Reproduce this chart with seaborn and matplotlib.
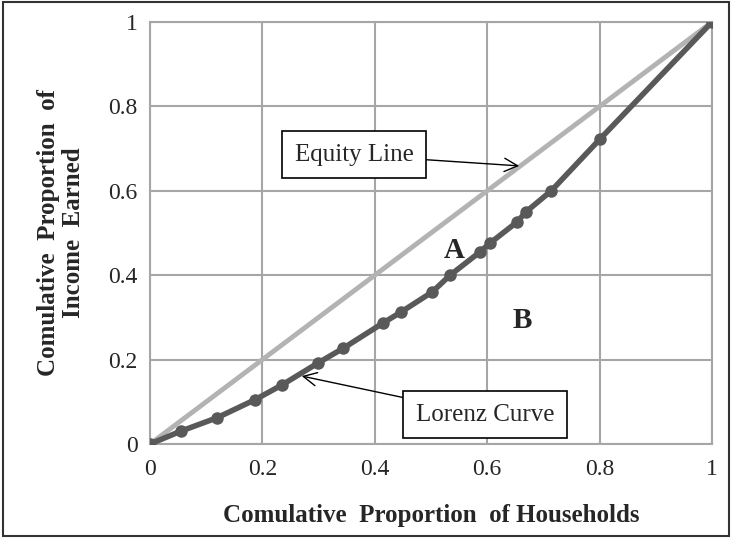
import matplotlib
matplotlib.use("Agg")
import matplotlib.pyplot as plt
import numpy as np
import pandas as pd
import seaborn as sns

# Lorenz curve points
households = [0.0, 0.056, 0.119, 0.187, 0.235, 0.299, 0.344, 0.415, 0.447,
              0.502, 0.534, 0.587, 0.605, 0.653, 0.669, 0.714, 0.801, 1.0]
income = [0.0, 0.031, 0.062, 0.105, 0.140, 0.192, 0.227, 0.287, 0.313,
          0.360, 0.400, 0.455, 0.476, 0.526, 0.550, 0.600, 0.723, 1.0]
equity_x = [0.0, 1.0]
equity_y = [0.0, 1.0]
ticks = [0, 0.2, 0.4, 0.6, 0.8, 1]
tick_labels = ["0", "0.2", "0.4", "0.6", "0.8", "1"]

lorenz = pd.DataFrame({"households": households, "income": income})
equity = pd.DataFrame({"households": equity_x, "income": equity_y})

sns.set_style("white")
plt.rcParams["font.family"] = ["Liberation Serif", "DejaVu Serif"]

fig = plt.figure(figsize=(7.32, 5.38), dpi=100)
ax = fig.add_axes([150 / 732, 1 - 444 / 538, 562 / 732, 422 / 538])

grid_c = "#a6a6a6"
sns.lineplot(data=equity, x="households", y="income", ax=ax,
             color="#b3b3b3", linewidth=3.5, zorder=3)
sns.lineplot(data=lorenz, x="households", y="income", ax=ax,
             color="#595959", linewidth=4, marker="o", markersize=9,
             markeredgewidth=0, zorder=4)

ax.set_xlim(0, 1)
ax.set_ylim(0, 1)
ax.set_xticks(ticks)
ax.set_xticklabels(tick_labels)
ax.set_yticks(ticks)
ax.set_yticklabels(tick_labels)
ax.grid(True, color=grid_c, linewidth=1.5)
ax.set_axisbelow(True)
for s in ax.spines.values():
    s.set_color(grid_c)
    s.set_linewidth(1.5)
ax.tick_params(axis="both", which="both", direction="out", length=6,
               width=1.5, color=grid_c, labelsize=17, pad=3)
ax.tick_params(axis="x", pad=5)

ax.set_xlabel("Comulative  Proportion  of Households", fontsize=18,
              fontweight="bold", labelpad=17)
ax.set_ylabel("Comulative  Proportion  of\nIncome  Earned", fontsize=18,
              fontweight="bold", linespacing=1.15)
ax.yaxis.set_label_coords(-0.115, 0.5)

ax.text(0.541, 0.458, "A", fontsize=21, fontweight="bold", ha="center", va="center")
ax.text(0.663, 0.292, "B", fontsize=21, fontweight="bold", ha="center", va="center")

box = dict(boxstyle="square,pad=0.5", fc="white", ec="black", lw=1.2)
arrow = dict(arrowstyle="->", color="black", lw=1.0, mutation_scale=24, shrinkA=0, shrinkB=0)
ax.annotate("Equity Line", xy=(0.657, 0.659), xytext=(0.363, 0.685),
            fontsize=18, ha="center", va="center", bbox=box, arrowprops=arrow, zorder=6)
ax.annotate("Lorenz Curve", xy=(0.270, 0.161), xytext=(0.596, 0.069),
            fontsize=18, ha="center", va="center", bbox=box, arrowprops=arrow, zorder=6)

# outer frame of the figure
fig.patches.append(plt.Rectangle((0.004, 0.004), 0.992, 0.992, transform=fig.transFigure,
                                 fill=False, ec="#333333", lw=1.5))

fig.savefig("out.png", dpi=100)
